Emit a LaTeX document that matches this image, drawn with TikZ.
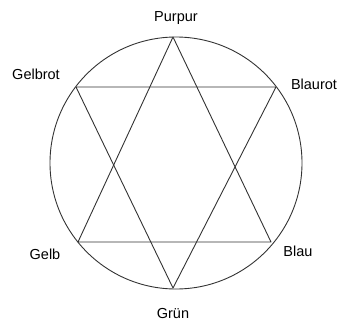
\documentclass[tikz,border=0pt]{standalone}
\usepackage{fontspec}
\setmainfont{Liberation Sans}
\begin{document}
\begin{tikzpicture}[
  x=1pt, y=-1pt,
  lbl/.style={font=\fontsize{14.5}{17}\selectfont, inner sep=0pt},
  edge/.style={draw=black!80, line width=0.9pt, line join=round},
]
  \useasboundingbox (0,0) rectangle (340,325);

  \coordinate (ctr) at (176,163);
  \draw[edge] (ctr) circle[radius=126];

  \coordinate (vPurpur)  at (173,37);
  \coordinate (vBlaurot) at (276,87);
  \coordinate (vBlau)    at (271,242);
  \coordinate (vGruen)   at (173,288);
  \coordinate (vGelb)    at (78,242);
  \coordinate (vGelbrot) at (76,87);

  \node[lbl] (purpur)  at (176,18)  {Purpur};
  \node[lbl] (blaurot) at (314,84)  {Blaurot};
  \node[lbl] (blau)    at (298,251) {Blau};
  \node[lbl] (gruen)   at (173,314) {Grün};
  \node[lbl] (gelb)    at (45,254)  {Gelb};
  \node[lbl] (gelbrot) at (36,74)   {Gelbrot};

  \draw[edge] (vPurpur) -- (vBlau) -- (vGelb) -- cycle;
  \draw[edge] (vGruen) -- (vBlaurot) -- (vGelbrot) -- cycle;
\end{tikzpicture}
\end{document}
